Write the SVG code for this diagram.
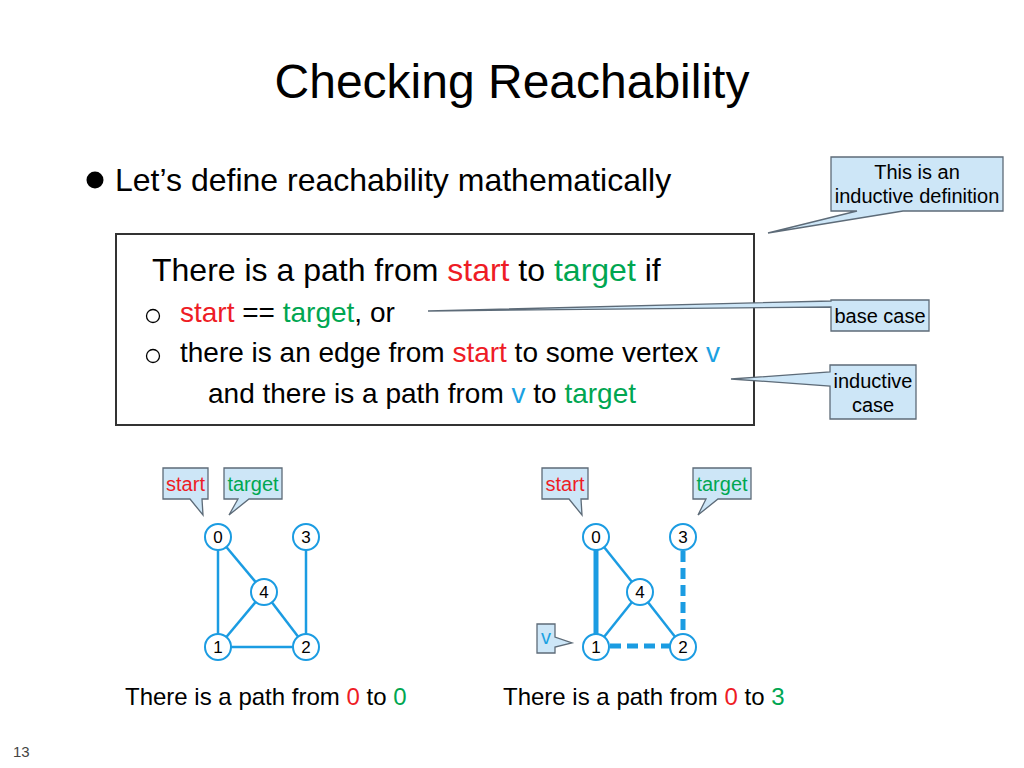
<svg xmlns="http://www.w3.org/2000/svg" width="1024" height="768" viewBox="0 0 1024 768">
<style>
text{font-family:"Liberation Sans",Arial,sans-serif;fill:#000}
.r{fill:#ee1c25}
.g{fill:#00a651}
.b{fill:#1ba1e2}
.call{fill:#cde6f7;stroke:#5d6b78;stroke-width:1.3}
.node circle{fill:#fff;stroke:#1b9ce2;stroke-width:2}
.node text{font-size:17px;text-anchor:middle}
.e{stroke:#1b9ce2;stroke-width:2.5;fill:none}
.thick{stroke-width:5}
.dash{stroke-dasharray:11 6}
.ct{font-size:20px;text-anchor:middle}
.blt{fill:none;stroke:#000;stroke-width:1.3}
</style>
<rect width="1024" height="768" fill="#fff"/>
<text x="512" y="98" font-size="48" text-anchor="middle">Checking Reachability</text>
<circle cx="95" cy="180" r="8.5" fill="#000"/>
<text x="115" y="191" font-size="32">Let’s define reachability mathematically</text>

<g id="callout-inductive-def">
<path class="call" d="M831,157 H1003 V211 H903 L768,233 L857,211 H831 Z"/>
<text class="ct" x="917" y="179">This is an</text>
<text class="ct" x="917" y="203">inductive definition</text>
</g>

<g id="definition-box">
<rect x="116" y="234" width="638" height="191" fill="#fff" stroke="#333" stroke-width="2"/>
<text x="152" y="281" font-size="32">There is a path from <tspan class="r">start</tspan> to <tspan class="g">target</tspan> if</text>
<circle class="blt" cx="153" cy="316" r="6.5"/>
<text x="180" y="322" font-size="28"><tspan class="r">start</tspan> == <tspan class="g">target</tspan>, or</text>
<circle class="blt" cx="153" cy="356" r="6.5"/>
<text x="180" y="362" font-size="28">there is an edge from <tspan class="r">start</tspan> to some vertex <tspan class="b">v</tspan></text>
<text x="208" y="403" font-size="28">and there is a path from <tspan class="b">v</tspan> to <tspan class="g">target</tspan></text>
</g>

<g id="callout-base">
<path class="call" d="M831,300 H929 V331 H831 V307 L428,311 L831,301 Z"/>
<text class="ct" x="880" y="323">base case</text>
</g>

<g id="callout-inductive">
<path class="call" d="M830,365 H916 V419 H830 V386 L731,379 L830,372 Z"/>
<text class="ct" x="873" y="388">inductive</text>
<text class="ct" x="873" y="412">case</text>
</g>

<g id="connectors">
<line class="e" x1="218" y1="537" x2="218" y2="647"/>
<line class="e" x1="218" y1="537" x2="264" y2="592"/>
<line class="e" x1="264" y1="592" x2="218" y2="647"/>
<line class="e" x1="264" y1="592" x2="306" y2="647"/>
<line class="e" x1="218" y1="647" x2="306" y2="647"/>
<line class="e" x1="306" y1="537" x2="306" y2="647"/>
<line class="e thick" x1="596" y1="537" x2="596" y2="647"/>
<line class="e" x1="596" y1="537" x2="640" y2="592"/>
<line class="e" x1="640" y1="592" x2="596" y2="647"/>
<line class="e" x1="640" y1="592" x2="683" y2="647"/>
<line class="e thick dash" x1="610" y1="646" x2="670" y2="646"/>
<line class="e thick dash" x1="683" y1="551" x2="683" y2="633"/>
</g>

<g id="g1-node0" class="node"><circle cx="218" cy="537" r="13"/><text x="218" y="543">0</text></g>
<g id="g1-node3" class="node"><circle cx="306" cy="537" r="13"/><text x="306" y="543">3</text></g>
<g id="g1-node4" class="node"><circle cx="264" cy="592" r="13"/><text x="264" y="598">4</text></g>
<g id="g1-node1" class="node"><circle cx="218" cy="647" r="13"/><text x="218" y="653">1</text></g>
<g id="g1-node2" class="node"><circle cx="306" cy="647" r="13"/><text x="306" y="653">2</text></g>

<g id="g2-node0" class="node"><circle cx="596" cy="537" r="13"/><text x="596" y="543">0</text></g>
<g id="g2-node3" class="node"><circle cx="683" cy="537" r="13"/><text x="683" y="543">3</text></g>
<g id="g2-node4" class="node"><circle cx="640" cy="592" r="13"/><text x="640" y="598">4</text></g>
<g id="g2-node1" class="node"><circle cx="596" cy="647" r="13"/><text x="596" y="653">1</text></g>
<g id="g2-node2" class="node"><circle cx="683" cy="647" r="13"/><text x="683" y="653">2</text></g>

<g id="g1-start">
<path class="call" d="M163,468 H208 V499 H202 L203,515 L190,499 H163 Z"/>
<text class="ct r" x="185.5" y="491">start</text>
</g>
<g id="g1-target">
<path class="call" d="M224,468 H282 V499 H249 L229,515 L238,499 H224 Z"/>
<text class="ct g" x="253" y="491">target</text>
</g>
<g id="g2-start">
<path class="call" d="M542,468 H588 V499 H581 L582,515 L569,499 H542 Z"/>
<text class="ct r" x="565" y="491">start</text>
</g>
<g id="g2-target">
<path class="call" d="M693,468 H751 V499 H718 L698,515 L706,499 H693 Z"/>
<text class="ct g" x="722" y="491">target</text>
</g>
<g id="g2-v">
<path class="call" d="M537,624 H555 V637 L572,643 L555,647 V653 H537 Z"/>
<text class="ct b" x="546" y="644">v</text>
</g>

<text x="125" y="705" font-size="24">There is a path from <tspan class="r">0</tspan> to <tspan class="g">0</tspan></text>
<text x="503" y="705" font-size="24">There is a path from <tspan class="r">0</tspan> to <tspan class="g">3</tspan></text>
<text x="13" y="757" font-size="15" style="fill:#444">13</text>
</svg>
